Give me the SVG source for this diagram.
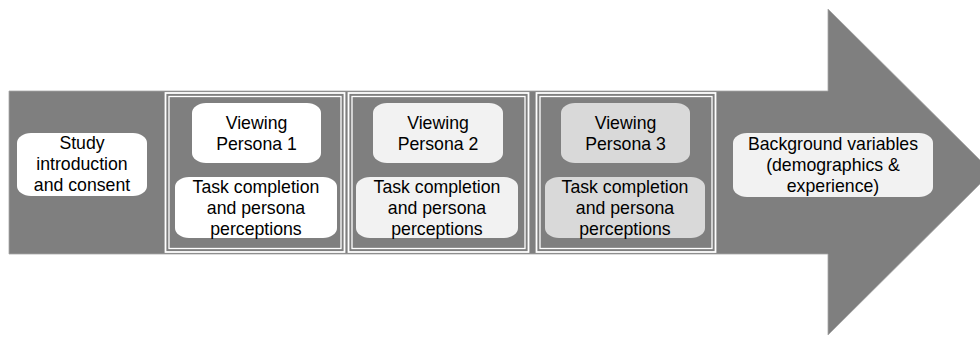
<svg xmlns="http://www.w3.org/2000/svg" width="980" height="339" viewBox="0 0 980 339">
<style>
.t{font-family:"Liberation Sans",Arial,sans-serif;font-size:17.7px;fill:#000;text-anchor:middle}
.frame{fill:none;stroke:#fff;stroke-width:1.8}
.inner{fill:none;stroke:#fff;stroke-width:1.3}
.box{stroke:none}
</style>
<rect width="980" height="339" fill="#fff"/>
<g id="arrow">
<polygon points="9,91 828,91 828,9 992,172 828,335 828,254 9,254" fill="#7f7f7f" stroke="#a6a6a6" stroke-width="0.8"/>
</g>
<g id="frames">
<g id="frame1"><rect class="frame" x="165.5" y="93" width="179" height="159"/><rect class="inner" x="169" y="96.5" width="172" height="152"/></g>
<g id="frame2"><rect class="frame" x="348.5" y="93" width="180" height="159"/><rect class="inner" x="352" y="96.5" width="173" height="152"/></g>
<g id="frame3"><rect class="frame" x="536.5" y="93" width="179" height="159"/><rect class="inner" x="540" y="96.5" width="172" height="152"/></g>
</g>
<g id="study">
<rect class="box" x="17" y="133" width="130" height="63" rx="14" ry="10" fill="#fff"/>
<text class="t" x="82" y="149">Study</text>
<text class="t" x="82" y="170">introduction</text>
<text class="t" x="82" y="191">and consent</text>
</g>
<g id="view1">
<rect class="box" x="192" y="103" width="129" height="60" rx="14" ry="10" fill="#fff"/>
<text class="t" x="256.5" y="129">Viewing</text>
<text class="t" x="256.5" y="150">Persona 1</text>
</g>
<g id="task1">
<rect class="box" x="175" y="177" width="162" height="61" rx="14" ry="10" fill="#fff"/>
<text class="t" x="256" y="193">Task completion</text>
<text class="t" x="256" y="214">and persona</text>
<text class="t" x="256" y="235">perceptions</text>
</g>
<g id="view2">
<rect class="box" x="373" y="103" width="130" height="60" rx="14" ry="10" fill="#f2f2f2"/>
<text class="t" x="438" y="129">Viewing</text>
<text class="t" x="438" y="150">Persona 2</text>
</g>
<g id="task2">
<rect class="box" x="356" y="177" width="162" height="61" rx="14" ry="10" fill="#f2f2f2"/>
<text class="t" x="437" y="193">Task completion</text>
<text class="t" x="437" y="214">and persona</text>
<text class="t" x="437" y="235">perceptions</text>
</g>
<g id="view3">
<rect class="box" x="561" y="103" width="129" height="60" rx="14" ry="10" fill="#d9d9d9"/>
<text class="t" x="625.5" y="129">Viewing</text>
<text class="t" x="625.5" y="150">Persona 3</text>
</g>
<g id="task3">
<rect class="box" x="545" y="177" width="160" height="61" rx="14" ry="10" fill="#d9d9d9"/>
<text class="t" x="625" y="193">Task completion</text>
<text class="t" x="625" y="214">and persona</text>
<text class="t" x="625" y="235">perceptions</text>
</g>
<g id="background">
<rect class="box" x="733" y="133" width="200" height="64" rx="14" ry="10" fill="#f2f2f2"/>
<text class="t" x="833" y="150">Background variables</text>
<text class="t" x="833" y="171">(demographics &amp;</text>
<text class="t" x="833" y="192">experience)</text>
</g>
<g id="connectors"></g>
</svg>
